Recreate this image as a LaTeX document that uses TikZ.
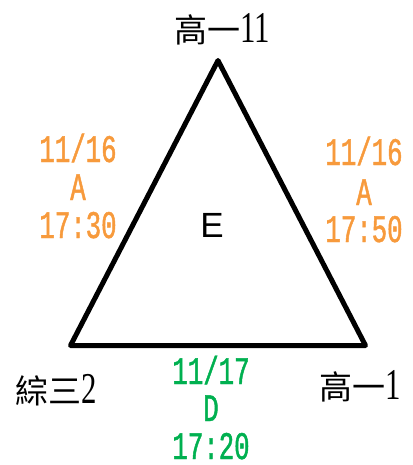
\documentclass[tikz,border=0pt]{standalone}
\usepackage{fontspec}
\setmainfont{Liberation Serif}
\newfontfamily\cjk{Noto Sans CJK TC}
\newfontfamily\lserif[FakeStretch=0.7]{Liberation Serif}
\newfontfamily\lmono[FakeStretch=0.66,FakeBold=1.2]{Liberation Mono}
\newfontfamily\lsans{Liberation Sans}
\definecolor{orangeT}{HTML}{F79A3C}
\definecolor{greenT}{HTML}{00B050}
\tikzset{
  vlabel/.style={anchor=base, inner sep=0pt, font=\fontsize{33}{33}\selectfont},
  dlabel/.style={anchor=base, inner sep=0pt, font=\lmono\fontsize{39}{39}\selectfont},
  tri/.style={draw=black, line width=5pt, line join=round}
}
\newcommand{\dg}[1]{{\lserif\fontsize{44}{44}\selectfont #1}}
\begin{document}
\begin{tikzpicture}[x=1pt,y=-1pt]
\useasboundingbox (0,0) rectangle (412,465);
\coordinate (top) at (218,60.5);
\coordinate (bl) at (70.5,345.5);
\coordinate (br) at (365.5,345.5);
\draw[tri] (top) -- (br) -- (bl) -- cycle;
\node[vlabel] (ltop) at (222,43) {\cjk 高一\dg{11}};
\node[vlabel] (lbl) at (56,403) {\cjk 綜三\dg{2}};
\node[vlabel] (lbr) at (360,399) {\cjk 高一\dg{1}};
\node[anchor=base, inner sep=0pt, font=\lsans\fontsize{35}{35}\selectfont] (e) at (212,237) {E};
\node[dlabel, text=orangeT] (l1) at (78,162) {11/16};
\node[dlabel, text=orangeT] (l2) at (78,200) {A};
\node[dlabel, text=orangeT] (l3) at (78,238) {17:30};
\node[dlabel, text=orangeT] (r1) at (364,165) {11/16};
\node[dlabel, text=orangeT] (r2) at (364,205) {A};
\node[dlabel, text=orangeT] (r3) at (364,242) {17:50};
\node[dlabel, text=greenT] (b1) at (211,384) {11/17};
\node[dlabel, text=greenT] (b2) at (211,421) {D};
\node[dlabel, text=greenT] (b3) at (211,459) {17:20};
\end{tikzpicture}
\end{document}
